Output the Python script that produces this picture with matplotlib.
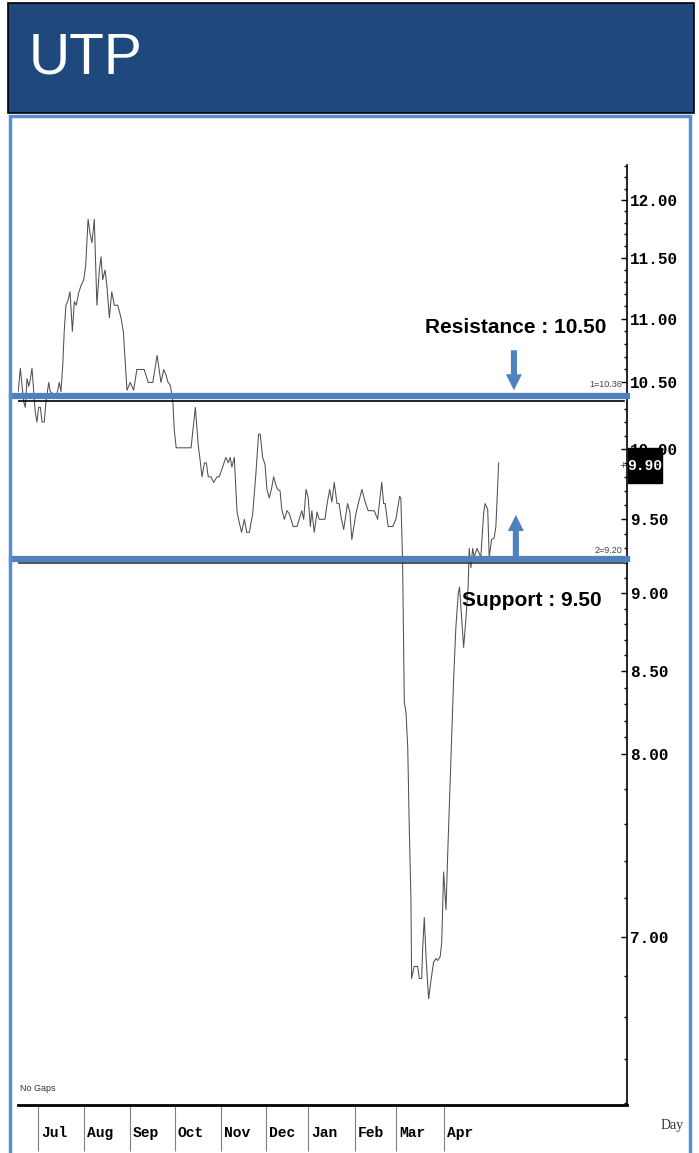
import matplotlib
matplotlib.use("Agg")
import numpy as np
import matplotlib.pyplot as plt
import matplotlib.transforms as mtransforms
from matplotlib.patches import Rectangle
from matplotlib.ticker import FixedLocator, NullFormatter

# trading-day index (from the first bar) and closing price
days = [0.1, 1.1, 1.9, 2.7, 3.4, 4.2, 5.0, 5.7, 6.5, 7.3, 8.0, 8.8, 9.6, 10.4, 11.2,
        12.2, 13.0, 14.3, 15.0, 16.6, 18.1, 19.2, 20.0, 20.8, 21.5, 22.3, 23.1, 24.2,
        25.3, 26.2, 27.1, 28.2, 29.3, 30.6, 31.5, 32.6, 33.6, 34.4, 35.5, 36.7, 37.8,
        38.6, 39.4, 40.5, 41.4, 42.5, 43.6, 44.8, 46.4, 47.9, 49.0,
        50.7, 52.2, 53.8, 55.3, 58.7, 60.6, 62.7, 64.7, 66.5, 67.8, 68.8, 69.8, 70.8,
        72.0, 72.7, 73.6, 80.5, 81.7, 82.5, 83.9, 84.8, 85.6, 86.7, 87.6, 88.5, 89.8,
        91.0, 92.6, 93.6, 95.2, 96.7, 97.8, 98.7, 99.5, 100.6, 101.9, 102.9, 104.0,
        105.3, 106.4, 107.6, 109.2, 110.7, 111.9, 112.7, 113.8, 114.9, 115.8, 116.9,
        118.0, 118.9, 120.0, 120.8, 121.9, 122.7, 123.9, 125.1, 126.2, 128.0, 129.8,
        132.0, 132.9, 134.0, 135.0, 136.0, 136.7, 137.8, 139.1, 140.1, 142.8, 143.7,
        145.0, 146.0, 147.1, 148.4, 149.4, 150.2, 151.5, 153.3, 154.4, 155.3, 157.2,
        158.3, 160.0, 161.5, 162.9, 165.7, 167.3, 169.2, 170.1, 170.8, 172.2, 174.3,
        175.8, 177.5, 178.1, 178.9, 179.7, 180.5, 181.3, 182.0, 182.8, 183.1, 184.3,
        185.9, 186.7, 187.8, 188.2, 189.0, 189.8, 191.0, 192.1, 193.3, 194.4, 195.3,
        196.4, 197.1, 198.0, 199.1, 199.9, 201.4, 202.7, 203.7, 204.8, 205.4, 206.4,
        207.3, 208.4, 209.4, 209.9, 210.7, 211.5, 212.2, 213.5, 215.3, 216.6, 217.3,
        218.5, 219.2, 220.3, 221.5, 222.3, 223.6]
prices = [10.43, 10.61, 10.47, 10.35, 10.31, 10.53, 10.47, 10.52, 10.61, 10.43, 10.28,
          10.20, 10.31, 10.31, 10.20, 10.20, 10.35, 10.50, 10.43, 10.41, 10.41, 10.50,
          10.43, 10.63, 10.90, 11.11, 11.14, 11.22, 10.90, 11.14, 11.11, 11.21, 11.27,
          11.32, 11.44, 11.83, 11.70, 11.63, 11.83, 11.11, 11.39, 11.51, 11.32, 11.40,
          11.26, 11.01, 11.22, 11.11, 11.11, 11.01, 10.90,
          10.44, 10.50, 10.44, 10.60, 10.60, 10.50, 10.50, 10.71, 10.50, 10.60, 10.56,
          10.50, 10.48, 10.37, 10.14, 10.01, 10.01, 10.19, 10.31, 10.02, 9.91, 9.80,
          9.90, 9.90, 9.80, 9.80, 9.76, 9.80, 9.80, 9.87, 9.94, 9.90, 9.94, 9.87, 9.94,
          9.55, 9.48, 9.41, 9.50, 9.41, 9.41, 9.54, 9.83, 10.11, 10.11, 9.94, 9.89,
          9.71, 9.65, 9.72, 9.80, 9.74, 9.71, 9.70, 9.57, 9.50, 9.56, 9.54, 9.45, 9.45,
          9.56, 9.50, 9.71, 9.65, 9.45, 9.56, 9.41, 9.55, 9.50, 9.50, 9.60, 9.71, 9.62,
          9.76, 9.61, 9.61, 9.52, 9.43, 9.61, 9.55, 9.36, 9.54, 9.61, 9.71, 9.62, 9.56,
          9.56, 9.50, 9.76, 9.61, 9.61, 9.45, 9.45, 9.50, 9.66, 9.65, 9.22, 8.31, 8.25,
          8.04, 7.59, 7.19, 6.79, 6.85, 6.85, 6.79, 6.79, 6.93, 7.10, 6.90, 6.69, 6.78,
          6.87, 6.89, 6.88, 6.90, 6.97, 7.34, 7.14, 7.44, 7.97, 8.47, 8.78, 9.00, 9.04,
          8.83, 8.65, 8.84, 9.04, 9.30, 9.17, 9.30, 9.24, 9.30, 9.24, 9.54, 9.61, 9.57,
          9.24, 9.36, 9.37, 9.45, 9.90]

month_names = ["Jul", "Aug", "Sep", "Oct", "Nov", "Dec", "Jan", "Feb", "Mar", "Apr"]
month_starts = [9.3, 30.7, 52.1, 73.0, 94.4, 115.3, 134.9, 156.7, 175.8, 198.1]

y_major = [7.0, 8.0, 8.5, 9.0, 9.5, 10.0, 10.5, 11.0, 11.5, 12.0]
y_major_labels = ["7.00", "8.00", "8.50", "9.00", "9.50", "10.00", "10.50", "11.00", "11.50", "12.00"]

resistance_line = 10.36
support_line = 9.20
resistance_band = 10.40
support_band = 9.225
last_price = 9.90

blue = "#4f81bd"
frame_blue = "#558ed5"
mono = ["Liberation Mono", "DejaVu Sans Mono"]
narrow = ["Liberation Sans Narrow", "Liberation Sans", "DejaVu Sans"]
arial = ["Liberation Sans", "DejaVu Sans"]

fig = plt.figure(figsize=(6.99, 11.53), dpi=100)
W, H = 699, 1153

# header bar and frame
fig.patches.append(Rectangle((8 / W, 1 - 113 / H), 686 / W, 110 / H, transform=fig.transFigure,
                             facecolor="#1f497d", edgecolor="black", lw=1.2))
fig.patches.append(Rectangle((10 / W, -0.01), 680 / W, (H - 116) / H + 0.01, transform=fig.transFigure,
                             facecolor="none", edgecolor=frame_blue, lw=2.5))
fig.text(29 / W, 1 - 58 / H, "UTP", color="white", fontsize=41, family=arial, va="center", ha="left")

ax = fig.add_axes([18 / W, 48 / H, 609 / W, 940 / H])
ax.plot(days, prices, color="#505050", lw=0.75, zorder=2)
ax.set_yscale("log")
ax.set_ylim(6.19, 12.31)
ax.set_xlim(0, 283.3)

for s in ["left", "top"]:
    ax.spines[s].set_visible(False)
ax.spines["right"].set_linewidth(1.2)
ax.spines["bottom"].set_linewidth(2)

# right price axis
ax.yaxis.tick_right()
ax.set_yticks(y_major, y_major_labels, family=mono, fontweight="bold", fontsize=11.5)
minor = list(np.arange(6.2, 8.0, 0.2)) + list(np.arange(8.1, 12.35, 0.1))
ax.yaxis.set_minor_locator(FixedLocator(minor))
ax.yaxis.set_minor_formatter(NullFormatter())
ax.tick_params(axis="y", which="major", direction="in", length=4, width=1, pad=2,
               right=True, left=False)
ax.tick_params(axis="y", which="minor", direction="in", length=2.5, width=1,
               right=True, left=False)

# months
ax.set_xticks(month_starts, [""] * len(month_starts))
ax.tick_params(axis="x", which="major", direction="out", length=33, width=0.8, color="#808080")
ax.xaxis.set_minor_locator(FixedLocator([]))
xtrans = mtransforms.blended_transform_factory(ax.transData, ax.transAxes)
for name, m in zip(month_names, month_starts):
    ax.text(m + 1.4, -0.030, name, transform=xtrans, ha="left", va="center",
            family=mono, fontweight="bold", fontsize=10.5)

# support / resistance
ax.axhline(resistance_band, xmin=-0.0099, xmax=1, color=blue, lw=4.5, clip_on=False, zorder=4)
ax.axhline(support_band, xmin=-0.0099, xmax=1, color=blue, lw=4.5, clip_on=False, zorder=4)
ax.axhline(resistance_line, xmin=0, xmax=0.995, color="black", lw=1.2, zorder=3)
ax.axhline(support_line, xmin=0, xmax=0.995, color="#333333", lw=1.2, zorder=3)

ytrans = mtransforms.blended_transform_factory(ax.transAxes, ax.transData)
ax.text(0.992, 10.45, "1=10.36", transform=ytrans, ha="right", va="bottom",
        fontsize=6.5, family=narrow, color="#444444")
ax.text(0.992, 9.255, "2=9.20", transform=ytrans, ha="right", va="bottom",
        fontsize=6.5, family=narrow, color="#444444")

arrow_style = "simple,head_length=1.0,head_width=1.0,tail_width=0.38"
ax.annotate("", xy=(230.7, 10.44), xytext=(230.7, 10.75),
            arrowprops=dict(arrowstyle=arrow_style, color=blue, lw=0, mutation_scale=11.5,
                            shrinkA=0, shrinkB=0))
ax.annotate("", xy=(231.6, 9.53), xytext=(231.6, 9.24),
            arrowprops=dict(arrowstyle=arrow_style, color=blue, lw=0, mutation_scale=11.5,
                            shrinkA=0, shrinkB=0))
ax.text(231.6, 10.93, "Resistance : 10.50", ha="center", va="center", fontsize=15,
        fontweight="bold", family=arial)
ax.text(239.0, 8.95, "Support : 9.50", ha="center", va="center", fontsize=15,
        fontweight="bold", family=arial, zorder=5)

# last price box (covers most of the 10.00 label, as in the source)
box = Rectangle((1.0016, 9.755), 0.0559, 10.01 - 9.755, transform=ytrans, facecolor="black",
                edgecolor="black", clip_on=False, zorder=6)
ax.add_patch(box)
ax.text(1.0016 + 0.028, 9.88, f"{last_price:.2f}", transform=ytrans, ha="center", va="center",
        color="white", family=mono, fontweight="bold", fontsize=10.5, zorder=7)
ax.text(0.993, 9.88, "+", transform=ytrans, ha="center", va="center", fontsize=6, color="#333333")

ax.text(0.003, 0.018, "No Gaps", transform=ax.transAxes, ha="left", va="center",
        fontsize=6.5, family=narrow, color="#333333")
fig.text(672 / W, 1 - 1125 / H, "Day", ha="center", va="center", fontsize=10,
         family=["Liberation Serif", "DejaVu Serif"], color="#333333")

fig.savefig("out.png", dpi=100)
